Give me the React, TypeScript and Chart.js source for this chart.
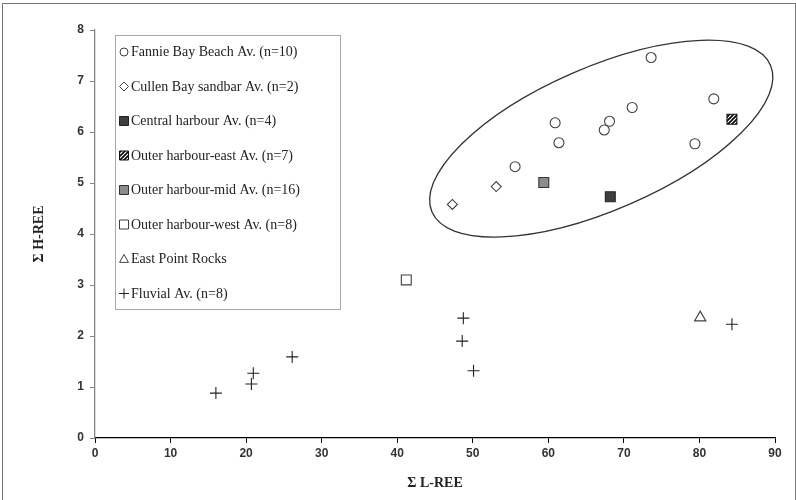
import React, { useEffect, useRef } from "react";
import { Chart, registerables } from "chart.js";
Chart.register(...registerables);

// ---- data ----
const fannieX = [55.6, 60.9, 61.4, 67.4, 68.1, 71.1, 73.6, 79.4, 81.9];
const fannieY = [5.32, 6.18, 5.79, 6.04, 6.21, 6.48, 7.46, 5.77, 6.65];
const cullenX = [47.3, 53.1];
const cullenY = [4.58, 4.93];
const centralX = [68.2];
const centralY = [4.73];
const outerEastX = [84.3];
const outerEastY = [6.25];
const outerMidX = [59.4];
const outerMidY = [5.01];
const outerWestX = [41.2];
const outerWestY = [3.1];
const eastPointX = [80.1];
const eastPointY = [2.36];
const fluvialX = [16.0, 20.95, 20.7, 26.1, 48.75, 48.6, 50.1, 84.3];
const fluvialY = [0.88, 1.27, 1.06, 1.59, 2.35, 1.9, 1.32, 2.23];

const seriesLabels = [
  "Fannie Bay Beach Av. (n=10)",
  "Cullen Bay sandbar Av. (n=2)",
  "Central harbour Av. (n=4)",
  "Outer harbour-east Av. (n=7)",
  "Outer harbour-mid Av. (n=16)",
  "Outer harbour-west Av. (n=8)",
  "East Point Rocks",
  "Fluvial Av. (n=8)",
];
const xTitle = "Σ L-REE";
const yTitle = "Σ H-REE";
const xMin = 0, xMax = 90, xStep = 10;
const yMin = 0, yMax = 8, yStep = 1;

// ellipse annotation (data units): centre, end of major axis, end of minor axis
const ellipseCenter = [67.0, 5.87];
const ellipseMajorEnd = [89.4, 7.31];
const ellipseMinorEnd = [63.3, 7.16];

const zip = (xs: number[], ys: number[]) => xs.map((x, i) => ({ x, y: ys[i] }));

function makeHatch(): CanvasPattern | string {
  const c = document.createElement("canvas");
  c.width = 4;
  c.height = 4;
  const g = c.getContext("2d");
  if (!g) return "#555";
  g.fillStyle = "#fff";
  g.fillRect(0, 0, 4, 4);
  g.strokeStyle = "#000";
  g.lineWidth = 1.6;
  g.beginPath();
  g.moveTo(-1, 5); g.lineTo(5, -1);
  g.moveTo(-1, 1); g.lineTo(1, -1);
  g.moveTo(3, 5); g.lineTo(5, 3);
  g.stroke();
  const p = g.createPattern(c, "repeat");
  return p || "#555";
}

function drawMarker(ctx: CanvasRenderingContext2D, style: string, x: number, y: number, r: number, fill: any, stroke: string) {
  ctx.save();
  ctx.lineWidth = 1;
  ctx.strokeStyle = stroke;
  ctx.fillStyle = fill;
  ctx.beginPath();
  if (style === "circle") {
    ctx.arc(x, y, r, 0, Math.PI * 2);
    ctx.fill(); ctx.stroke();
  } else if (style === "rectRot") {
    ctx.moveTo(x, y - r); ctx.lineTo(x + r, y); ctx.lineTo(x, y + r); ctx.lineTo(x - r, y); ctx.closePath();
    ctx.fill(); ctx.stroke();
  } else if (style === "rect") {
    ctx.rect(x - r, y - r, 2 * r, 2 * r);
    ctx.fill(); ctx.stroke();
  } else if (style === "triangle") {
    ctx.moveTo(x, y - r); ctx.lineTo(x + r, y + r * 0.75); ctx.lineTo(x - r, y + r * 0.75); ctx.closePath();
    ctx.stroke();
  } else if (style === "cross") {
    ctx.moveTo(x - r, y); ctx.lineTo(x + r, y); ctx.moveTo(x, y - r); ctx.lineTo(x, y + r);
    ctx.stroke();
  }
  ctx.restore();
}

export default function App() {
  const ref = useRef<HTMLCanvasElement | null>(null);
  useEffect(() => {
    document.body.style.margin = "0";
    const canvas = ref.current;
    if (!canvas) return;
    const hatch = makeHatch();
    const mid = "#8c8c8c";
    const dark = "#3f3f3f";
    const line = "#404040";

    const defs = [
      { xs: fannieX, ys: fannieY, style: "circle", r: 5, fill: "#fff", stroke: line, lr: 4 },
      { xs: cullenX, ys: cullenY, style: "rectRot", r: 5, fill: "#fff", stroke: line, lr: 4.5 },
      { xs: centralX, ys: centralY, style: "rect", r: 7, fill: dark, stroke: "#222", lr: 4.5 },
      { xs: outerEastX, ys: outerEastY, style: "rect", r: 7, fill: hatch, stroke: "#111", lr: 4.5 },
      { xs: outerMidX, ys: outerMidY, style: "rect", r: 7, fill: mid, stroke: "#333", lr: 4.5 },
      { xs: outerWestX, ys: outerWestY, style: "rect", r: 7, fill: "#fff", stroke: line, lr: 4.5 },
      { xs: eastPointX, ys: eastPointY, style: "triangle", r: 6.5, fill: "rgba(0,0,0,0)", stroke: line, lr: 4.5 },
      { xs: fluvialX, ys: fluvialY, style: "cross", r: 6, fill: "rgba(0,0,0,0)", stroke: "#222", lr: 5 },
    ];

    const datasets = defs.map((d, i) => ({
      label: seriesLabels[i],
      data: zip(d.xs, d.ys),
      pointStyle: d.style as any,
      pointRadius: d.r,
      pointHoverRadius: d.r,
      pointBackgroundColor: d.fill,
      pointBorderColor: d.stroke,
      pointBorderWidth: 1.1,
      backgroundColor: d.fill,
      borderColor: d.stroke,
      showLine: false,
    }));

    const framePlugin = {
      id: "frame",
      beforeDraw(chart: any) {
        const ctx = chart.ctx;
        ctx.save();
        ctx.fillStyle = "#fff";
        ctx.fillRect(0, 0, chart.width, chart.height);
        ctx.strokeStyle = "#777";
        ctx.lineWidth = 1;
        ctx.strokeRect(2.5, 3.5, chart.width - 3, chart.height - 2);
        ctx.restore();
      },
    };

    const ellipsePlugin = {
      id: "ellipse",
      afterDatasetsDraw(chart: any) {
        const xs = chart.scales.x, ys = chart.scales.y;
        const cx = xs.getPixelForValue(ellipseCenter[0]);
        const cy = ys.getPixelForValue(ellipseCenter[1]);
        const ux = xs.getPixelForValue(ellipseMajorEnd[0]) - cx;
        const uy = ys.getPixelForValue(ellipseMajorEnd[1]) - cy;
        const vx = xs.getPixelForValue(ellipseMinorEnd[0]) - cx;
        const vy = ys.getPixelForValue(ellipseMinorEnd[1]) - cy;
        const ctx = chart.ctx;
        ctx.save();
        ctx.strokeStyle = "#333";
        ctx.lineWidth = 1.3;
        ctx.beginPath();
        ctx.ellipse(cx, cy, Math.hypot(ux, uy), Math.hypot(vx, vy), Math.atan2(uy, ux), 0, Math.PI * 2);
        ctx.stroke();
        ctx.restore();
      },
    };

    const legendPlugin = {
      id: "customLegend",
      afterDraw(chart: any) {
        const ctx = chart.ctx;
        ctx.save();
        ctx.fillStyle = "#fff";
        ctx.fillRect(115.5, 35.5, 225, 274);
        ctx.strokeStyle = "#a8a8a8";
        ctx.lineWidth = 1;
        ctx.strokeRect(115.5, 35.5, 225, 274);
        ctx.font = "14px 'Liberation Serif', 'Times New Roman', serif";
        ctx.textBaseline = "middle";
        ctx.textAlign = "left";
        defs.forEach((d, i) => {
          const y = 52 + i * 34.5;
          drawMarker(ctx, d.style, 124, y, d.lr, d.fill, d.stroke);
          ctx.fillStyle = "#222";
          ctx.fillText(seriesLabels[i], 131, y + 0.5);
        });
        ctx.restore();
      },
    };

    const tickFont = { family: "'Liberation Sans Narrow', 'Arial Narrow', 'Liberation Sans', sans-serif", size: 12, weight: "bold" as const };
    const titleFont = { family: "'Liberation Serif', 'Times New Roman', serif", size: 14, weight: "bold" as const };

    const chart = new Chart(canvas, {
      type: "scatter",
      data: { datasets },
      plugins: [framePlugin, ellipsePlugin, legendPlugin],
      options: {
        animation: false,
        responsive: false,
        layout: { padding: { left: 0, right: 21, top: 30, bottom: 0 } },
        plugins: { legend: { display: false }, tooltip: { enabled: false } },
        scales: {
          x: {
            type: "linear",
            min: xMin,
            max: xMax,
            ticks: { stepSize: xStep, color: "#333", font: tickFont, padding: 3, maxRotation: 0 },
            grid: { display: true, drawOnChartArea: false, drawTicks: true, tickLength: 5, color: "#000" },
            border: { display: true, color: "#000", width: 1.3 },
            title: { display: true, text: xTitle, color: "#222", font: titleFont, padding: { top: 0, bottom: 8 } },
            afterFit: (s: any) => { s.height = 62; },
          },
          y: {
            type: "linear",
            min: yMin,
            max: yMax,
            ticks: { stepSize: yStep, color: "#333", font: tickFont, padding: 6 },
            grid: { display: true, drawOnChartArea: false, drawTicks: true, tickLength: 5, color: "#888" },
            border: { display: true, color: "#888", width: 1.3 },
            title: { display: true, text: yTitle, color: "#222", font: titleFont, padding: { top: 31, bottom: 0 } },
            afterFit: (s: any) => { s.width = 95; },
          },
        },
      },
    });
    return () => chart.destroy();
  }, []);

  return (
    <div style={{ width: 796, height: 500 }}>
      <canvas ref={ref} width={796} height={500} style={{ display: "block" }} />
    </div>
  );
}
